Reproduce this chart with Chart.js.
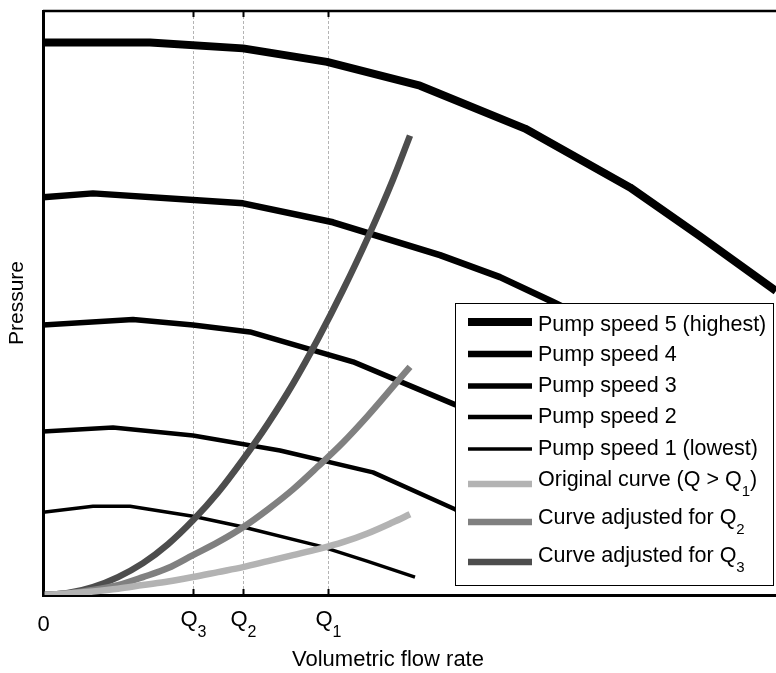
<!DOCTYPE html>
<html>
<head>
<meta charset="utf-8">
<script src="https://cdn.jsdelivr.net/npm/chart.js@4/dist/chart.umd.min.js"></script>
<style>
  html, body { margin: 0; padding: 0; background: #fff; }
  canvas { display: block; }
</style>
</head>
<body>
<canvas id="chart" width="776" height="673"></canvas>
<script>
// Axis extents (arbitrary units of flow and pressure)
const flowMax = 7.33;
const pressureMax = 5.86;

// Marked flow rates on the x axis
const flowTicks = [0, 1.5, 2.0, 2.85];
const flowTickLabels = ['0', 'Q_3', 'Q_2', 'Q_1'];

// Pump curves, one per speed step
const speed5Flow = [0, 1.07, 2.00, 2.84, 3.77, 4.82, 5.87, 6.57, 7.33];
const speed5Pres = [5.545, 5.545, 5.485, 5.35, 5.11, 4.68, 4.09, 3.60, 3.05];

const speed4Flow = [0, 0.5, 2.0, 2.9, 3.97, 4.57, 5.10, 5.77];
const speed4Pres = [3.99, 4.03, 3.93, 3.74, 3.41, 3.19, 2.94, 2.61];

const speed3Flow = [0, 0.9, 1.5, 2.07, 3.10, 4.12, 5.17];
const speed3Pres = [2.71, 2.765, 2.71, 2.64, 2.34, 1.91, 1.36];

const speed2Flow = [0, 0.7, 1.5, 2.37, 3.30, 4.12, 4.77];
const speed2Pres = [1.64, 1.68, 1.60, 1.45, 1.23, 0.86, 0.51];

const speed1Flow = [0, 0.5, 0.87, 1.5, 1.97, 2.77, 3.24, 3.72];
const speed1Pres = [0.83, 0.89, 0.89, 0.79, 0.69, 0.49, 0.34, 0.18];

// System curves
const systemFlow = [0, 0.25, 0.5, 0.75, 1.0, 1.25, 1.5, 1.75, 2.0, 2.25, 2.5, 2.75, 3.0, 3.25, 3.5, 3.67];
const originalPres   = [0, 0.015, 0.036, 0.063, 0.10, 0.135, 0.18, 0.23, 0.28, 0.34, 0.40, 0.46, 0.53, 0.62, 0.73, 0.81];
const adjustedQ2Pres = [0, 0.015, 0.05, 0.10, 0.18, 0.27, 0.40, 0.53, 0.68, 0.86, 1.06, 1.29, 1.53, 1.80, 2.09, 2.29];
const adjustedQ3Pres = [0, 0.02, 0.08, 0.18, 0.32, 0.51, 0.75, 1.03, 1.36, 1.72, 2.12, 2.57, 3.06, 3.59, 4.17, 4.61];

const seriesLabels = [
  'Pump speed 5 (highest)',
  'Pump speed 4',
  'Pump speed 3',
  'Pump speed 2',
  'Pump speed 1 (lowest)',
  'Original curve (Q > Q_1)',
  'Curve adjusted for Q_2',
  'Curve adjusted for Q_3'
];
const xTitle = 'Volumetric flow rate';
const yTitle = 'Pressure';

const FONT = '"Liberation Sans", Arial, Helvetica, sans-serif';

function pts(xs, ys) { return xs.map((x, i) => ({ x: x, y: ys[i] })); }

function pumpSet(label, xs, ys, width) {
  return {
    label: label, data: pts(xs, ys),
    borderColor: '#000', borderWidth: width,
    tension: 0, pointRadius: 0, fill: false, order: 1,
    borderJoinStyle: 'round', borderCapStyle: 'butt'
  };
}
function systemSet(label, xs, ys, color) {
  return {
    label: label, data: pts(xs, ys),
    borderColor: color, borderWidth: 6.5,
    cubicInterpolationMode: 'monotone', pointRadius: 0, fill: false, order: 0,
    borderCapStyle: 'butt'
  };
}

// Text with "_d" subscripts
function richParts(text) {
  const parts = [];
  const re = /_(\w)/g;
  let last = 0, m;
  while ((m = re.exec(text)) !== null) {
    if (m.index > last) parts.push({ t: text.slice(last, m.index), sub: false });
    parts.push({ t: m[1], sub: true });
    last = re.lastIndex;
  }
  if (last < text.length) parts.push({ t: text.slice(last), sub: false });
  return parts;
}
function richWidth(ctx, parts, size) {
  let w = 0;
  parts.forEach(p => {
    ctx.font = (p.sub ? Math.round(size * 0.72) : size) + 'px ' + FONT;
    w += ctx.measureText(p.t).width;
  });
  return w;
}
function drawRich(ctx, text, x, y, size, align) {
  const parts = richParts(text);
  let cx = align === 'center' ? x - richWidth(ctx, parts, size) / 2 : x;
  ctx.textAlign = 'left';
  ctx.textBaseline = 'middle';
  ctx.fillStyle = '#000';
  parts.forEach(p => {
    const s = p.sub ? Math.round(size * 0.72) : size;
    ctx.font = s + 'px ' + FONT;
    ctx.fillText(p.t, cx, p.sub ? y + size * 0.55 : y);
    cx += ctx.measureText(p.t).width;
  });
}

const framePlugin = {
  id: 'frame',
  beforeDatasetsDraw(chart) {
    const { ctx, chartArea: a } = chart;
    const xs = chart.scales.x;
    ctx.save();
    ctx.strokeStyle = '#b4b4b4';
    ctx.lineWidth = 1;
    ctx.setLineDash([3, 2]);
    flowTicks.forEach(v => {
      if (v === 0) return;
      const px = Math.round(xs.getPixelForValue(v)) + 0.5;
      ctx.beginPath();
      ctx.moveTo(px, a.top);
      ctx.lineTo(px, a.bottom);
      ctx.stroke();
    });
    ctx.restore();
  },
  afterDraw(chart) {
    const { ctx, chartArea: a } = chart;
    const xs = chart.scales.x;
    ctx.save();
    // top frame line
    ctx.strokeStyle = '#000';
    ctx.lineWidth = 2.5;
    ctx.beginPath();
    ctx.moveTo(a.left, a.top);
    ctx.lineTo(a.right, a.top);
    ctx.stroke();
    // inward tick marks top and bottom, with labels below
    ctx.lineWidth = 2;
    flowTicks.forEach((v, i) => {
      const px = Math.round(xs.getPixelForValue(v)) + 0.5;
      ctx.beginPath();
      ctx.moveTo(px, a.bottom);
      ctx.lineTo(px, a.bottom - 6);
      ctx.moveTo(px, a.top);
      ctx.lineTo(px, a.top + 6);
      ctx.stroke();
      const lab = flowTickLabels[i];
      const yy = lab.indexOf('_') >= 0 ? a.bottom + 25 : a.bottom + 30;
      drawRich(ctx, lab, px, yy, 22, 'center');
    });
    // x axis title
    ctx.font = '22px ' + FONT;
    ctx.textAlign = 'left';
    ctx.textBaseline = 'middle';
    ctx.fillStyle = '#000';
    ctx.fillText(xTitle, a.left + 249, a.bottom + 65);

    // legend box
    const L = { left: a.right - 321, top: a.top + 292, right: a.right - 3, bottom: a.top + 574 };
    ctx.fillStyle = '#fff';
    ctx.fillRect(L.left, L.top, L.right - L.left, L.bottom - L.top);
    ctx.strokeStyle = '#000';
    ctx.lineWidth = 1;
    ctx.strokeRect(Math.round(L.left) + 0.5, Math.round(L.top) + 0.5,
                   Math.round(L.right - L.left), Math.round(L.bottom - L.top));
    const lineY = [19, 51, 83, 114, 146, 181, 219, 259];
    const textY = [22, 52, 83, 114, 146, 177, 215, 253];
    chart.data.datasets.forEach((ds, i) => {
      ctx.strokeStyle = ds.borderColor;
      ctx.lineWidth = ds.borderWidth;
      ctx.lineCap = 'butt';
      ctx.beginPath();
      ctx.moveTo(L.left + 13, L.top + lineY[i]);
      ctx.lineTo(L.left + 77, L.top + lineY[i]);
      ctx.stroke();
      drawRich(ctx, ds.label, L.left + 83, L.top + textY[i], 21.5, 'left');
    });
    ctx.restore();
  }
};

new Chart(document.getElementById('chart'), {
  type: 'line',
  data: {
    datasets: [
      pumpSet(seriesLabels[0], speed5Flow, speed5Pres, 8),
      pumpSet(seriesLabels[1], speed4Flow, speed4Pres, 6.5),
      pumpSet(seriesLabels[2], speed3Flow, speed3Pres, 5.5),
      pumpSet(seriesLabels[3], speed2Flow, speed2Pres, 4.5),
      pumpSet(seriesLabels[4], speed1Flow, speed1Pres, 3.5),
      systemSet(seriesLabels[5], systemFlow, originalPres, '#b3b3b3'),
      systemSet(seriesLabels[6], systemFlow, adjustedQ2Pres, '#808080'),
      systemSet(seriesLabels[7], systemFlow, adjustedQ3Pres, '#4d4d4d')
    ]
  },
  options: {
    responsive: false,
    animation: false,
    events: [],
    layout: { padding: { top: 11, right: 0, left: 0, bottom: 0 } },
    plugins: { legend: { display: false }, tooltip: { enabled: false } },
    scales: {
      x: {
        type: 'linear', min: 0, max: flowMax,
        afterBuildTicks(scale) { scale.ticks = flowTicks.map(v => ({ value: v })); },
        afterFit(scale) { scale.height = 78; },
        ticks: { display: false },
        grid: { display: false },
        border: { display: true, color: '#000', width: 3 },
        title: { display: false }
      },
      y: {
        type: 'linear', min: 0, max: pressureMax,
        afterFit(scale) { scale.width = 43; },
        ticks: { display: false },
        grid: { display: false },
        border: { display: true, color: '#000', width: 3 },
        title: { display: true, text: yTitle, color: '#000',
                 font: { family: FONT, size: 21 }, padding: { top: 5, bottom: 0 } }
      }
    }
  },
  plugins: [framePlugin]
});
</script>
</body>
</html>
